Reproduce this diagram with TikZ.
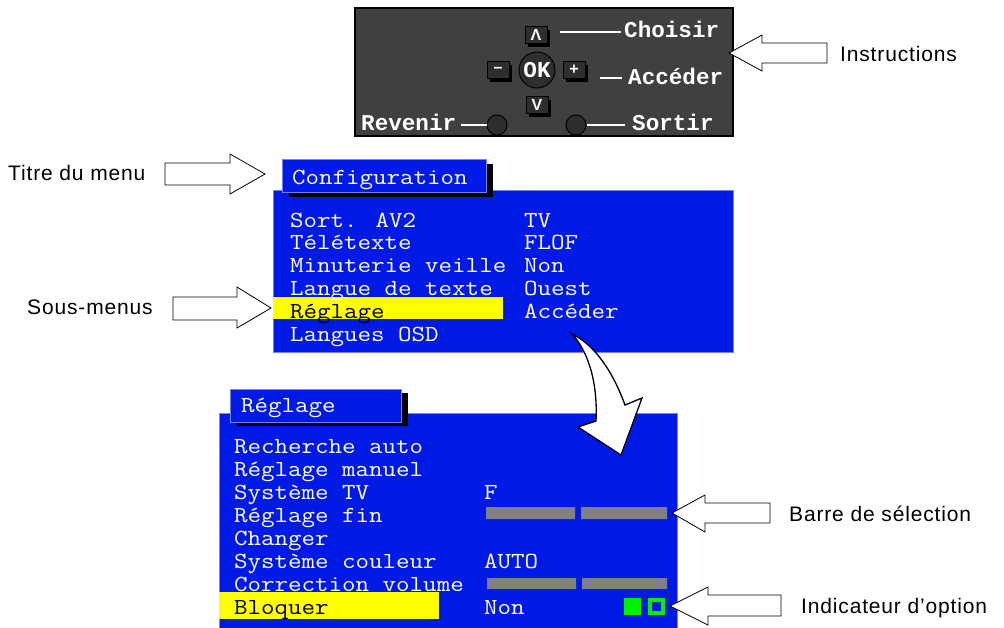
\documentclass[tikz,border=0pt]{standalone}
\usepackage{fontspec}
\setmainfont{Liberation Sans}
\setsansfont{Liberation Sans}
\setmonofont{Liberation Mono}
\newfontfamily\calloutfont{Liberation Sans}[LetterSpace=4]
\newfontfamily\osdmono{Latin Modern Mono}[FakeStretch=1.14]
\usetikzlibrary{positioning, shadows}
\definecolor{osdblue}{HTML}{001AE6}
\definecolor{osdyellow}{HTML}{FFFF00}
\definecolor{osdgrey}{HTML}{808080}
\definecolor{osdgreen}{HTML}{00F000}
\definecolor{panelgrey}{HTML}{404040}
\definecolor{keygrey}{HTML}{2E2E2E}
\newcommand\osdfont{\osdmono\fontsize{23}{24}\selectfont}
\newcommand\keyfont{\ttfamily\bfseries\fontsize{22.6}{24}\selectfont}
\newcommand\labelfont{\calloutfont\fontsize{21}{24}\selectfont}

\tikzset{
  osdtext/.style={anchor=base west, inner sep=0pt, text=white, font=\osdfont},
  keytext/.style={anchor=base west, inner sep=0pt, text=white, font=\keyfont},
  callout/.style={anchor=base west, inner sep=0pt, font=\labelfont},
  hollow/.style={draw=black, fill=white, line width=0.8pt, line join=miter},
  keybtn/.style={draw=black, fill=keygrey, line width=0.8pt, minimum width=22pt,
    minimum height=17pt, inner sep=0pt, text=white,
    font=\sffamily\bfseries\fontsize{16}{16}\selectfont,
    drop shadow={shadow xshift=3pt, shadow yshift=-3pt, fill=black, opacity=1}},
  keyround/.style={circle, draw=black, fill=keygrey, line width=1pt, inner sep=0pt},
  keyline/.style={white, line width=1.2pt},
}

\begin{document}
\begin{tikzpicture}[x=1pt, y=-1pt]
  \useasboundingbox (0,0) rectangle (1004,627);

  % remote control panel
  \filldraw[fill=panelgrey, draw=black, line width=1.6pt] (355,8) rectangle (733,136);
  \node[keyround, minimum size=36pt, text=white, font=\keyfont] (ok) at (537,70) {OK};
  \node[keybtn] (up) at (536,35) {Λ};
  \node[keybtn] (down) at (537,105) {V};
  \node[keybtn] (minus) at (498,70) {–};
  \node[keybtn] (plus) at (574,70) {+};
  \node[keyround, minimum size=20pt] (revbtn) at (497,125) {};
  \node[keyround, minimum size=20pt] (sortbtn) at (576,125) {};
  \node[keytext] (choisir) at (624,37) {Choisir};
  \node[keytext] (acceder) at (628,84) {Accéder};
  \node[keytext] (revenir) at (361,130) {Revenir};
  \node[keytext] (sortir) at (632,130) {Sortir};
  \draw[keyline] ([shift={(-3,-5)}]choisir.base west) -- ++(-61,0);
  \draw[keyline] ([shift={(-6,-6)}]acceder.base west) -- ++(-22,0);
  \draw[keyline] (revbtn.west) -- ++(-26,0);
  \draw[keyline] (sortbtn.east) -- ++(38,0);

  % menu Configuration
  \filldraw[fill=osdblue, draw=osdblue!55!white, line width=0.5pt] (273,190) rectangle (733,352);
  \fill[black] (289,164) rectangle (493,197);
  \filldraw[fill=osdblue, draw=osdblue!55!white, line width=0.5pt] (282,159) rectangle (486,192);
  \fill[osdyellow] (273,297) rectangle (503,319);
  \node[osdtext] (cfgtitle) at (292,184) {Configuration};
  \foreach \txt/\ink [count=\i from 0] in {Sort. AV2/white, Télétexte/white,
      Minuterie veille/white, Langue de texte/white, Réglage/black, Langues OSD/white}
    \node[osdtext, text=\ink] (cfg\i) at (290,{227+22.8*\i}) {\txt};
  \foreach \val [count=\i from 0] in {TV, FLOF, Non, Ouest, Accéder}
    \node[osdtext] (cfgv\i) at (524,{227+22.8*\i}) {\val};

  % menu Reglage
  \filldraw[fill=osdblue, draw=osdblue!55!white, line width=0.5pt] (219,413) rectangle (677,628);
  \fill[black] (237,393) rectangle (408,426);
  \filldraw[fill=osdblue, draw=osdblue!55!white, line width=0.5pt] (230,389) rectangle (401,422);
  \fill[osdyellow] (219,592) rectangle (439,619);
  \node[osdtext] (regtitle) at (241,412) {Réglage};
  \foreach \txt/\ink [count=\i from 0] in {Recherche auto/white, Réglage manuel/white,
      Système TV/white, Réglage fin/white, Changer/white, Système couleur/white,
      Correction volume/white, Bloquer/black}
    \node[osdtext, text=\ink] (reg\i) at (234,{453+23*\i}) {\txt};
  \node[osdtext] (regv2) at (484,499) {F};
  \node[osdtext] (regv5) at (484,568) {AUTO};
  \node[osdtext] (regv7) at (484,614) {Non};
  \fill[osdgrey] (486,507) rectangle (575,519) (581,507) rectangle (667,519);
  \fill[osdgrey] (487,578) rectangle (576,589) (582,578) rectangle (667,589);
  \fill[osdgreen] (624,598) rectangle (641,615);
  \draw[osdgreen, line width=4pt] (650,600) rectangle (663,613);

  % curved arrow between menus
  \draw[hollow, line width=1.3pt] (572,334) .. controls (587,350) and (598,380) .. (596,421)
    -- (578,427) -- (621,455) -- (642,398) -- (625,405)
    .. controls (613,372) and (595,345) .. (572,334) -- cycle;

  % callouts
  \node[callout] (instr) at (840,61) {Instructions};
  \node[callout] (titre) at (8,180) {Titre du menu};
  \node[callout] (sousmenus) at (27,314) {Sous-menus};
  \node[callout] (barre) at (789,521) {Barre de sélection};
  \node[callout] (indic) at (801,613) {Indicateur d’option};
  \draw[hollow] (827,43) -- (762,43) -- (762,35) -- (729,53) -- (762,71) -- (762,63) -- (827,63) -- cycle;
  \draw[hollow] (165,163) -- (230,163) -- (230,154) -- (265,174) -- (230,194) -- (230,185) -- (165,185) -- cycle;
  \draw[hollow] (173,297) -- (237,297) -- (237,287) -- (271,308) -- (237,328) -- (237,320) -- (173,320) -- cycle;
  \draw[hollow] (770,503) -- (705,503) -- (705,495) -- (672,513) -- (705,532) -- (705,523) -- (770,523) -- cycle;
  \draw[hollow] (781,595) -- (708,595) -- (708,587) -- (670,606) -- (708,625) -- (708,616) -- (781,616) -- cycle;
\end{tikzpicture}
\end{document}
